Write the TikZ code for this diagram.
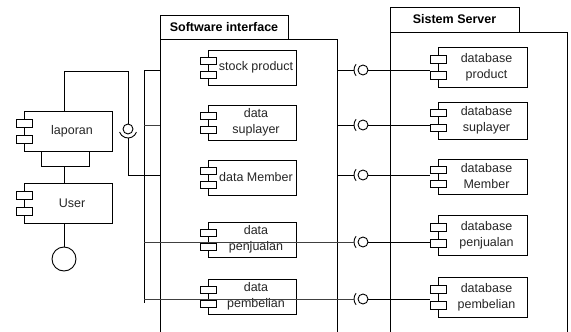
\documentclass[tikz,border=0pt]{standalone}
\usepackage{fontspec}
\setmainfont{Liberation Sans}
\tikzset{
  ln/.style={line width=0.9pt, draw=black},
  compbox/.style={ln, fill=white, inner sep=0pt, outer sep=0pt, rectangle},
  comptext/.style={font=\fontsize{12.5}{16}\selectfont, text=black!85, align=center, inner sep=0pt},
  tabbox/.style={ln, fill=white, rectangle, inner sep=0pt, outer sep=0pt, font=\fontsize{12.5}{15}\selectfont\bfseries},
  ball/.style={ln, circle, fill=white, minimum size=10pt, inner sep=0pt, outer sep=0pt},
  faint/.style={line width=0.9pt, draw=black!75}
}
\newcommand\compo[6]{%
  \node[compbox, minimum width={(#4-#2)*1pt}, minimum height={(#5-#3)*1pt}, anchor=north west,
        label={[comptext, xshift=4pt]center:{#6}}] (#1) at (#2,#3) {};
  \pgfmathsetmacro\hh{#5-#3}%
  \draw[compbox] ({#2-8},{#3+0.2*\hh}) rectangle ({#2+8},{#3+0.4*\hh});
  \draw[compbox] ({#2-8},{#3+0.6*\hh}) rectangle ({#2+8},{#3+0.8*\hh});
}
\begin{document}
\begin{tikzpicture}[x=1pt, y=-1pt]
\useasboundingbox (0,0) rectangle (571,332);
\clip (0,0) rectangle (571,332);
\fill[white] (0,0) rectangle (571,332);

% frames
\node[tabbox, minimum width=128pt, minimum height=24pt, anchor=north west] (tabSI) at (160,15) {Software interface};
\node[tabbox, minimum width=129pt, minimum height=25pt, anchor=north west] (tabSS) at (390,7) {Sistem Server};
\coordinate (siL) at (160,39);
\coordinate (siR) at (337,39);
\coordinate (ssL) at (390,32);
\coordinate (ssR) at (567,32);
\draw[ln] (160,345) -- (siL) -- (siR) -- (337,345);
\draw[ln] (390,345) -- (ssL) -- (ssR) -- (567,345);

% components
\compo{lap}{24}{111}{112}{151}{laporan}
\compo{usr}{24}{183}{112}{223}{User}
\compo{sp}{208}{50}{296}{85}{stock product}
\compo{ds}{208}{105}{296}{140}{data\\suplayer}
\compo{dm}{208}{160}{296}{195}{data Member}
\compo{dpj}{208}{222}{296}{257}{data\\penjualan}
\compo{dpb}{208}{279}{296}{314}{data\\pembelian}
\compo{dbp}{438}{47}{527}{87}{database\\product}
\compo{dbs}{438}{102}{527}{139}{database\\suplayer}
\compo{dbm}{438}{159}{527}{194}{database\\Member}
\compo{dbpj}{438}{215}{527}{255}{database\\penjualan}
\compo{dbpb}{438}{277}{527}{317}{database\\pembelian}

% user lollipop
\node[ln, circle, minimum size=24pt, inner sep=0pt] (uc) at (64,259) {};
\draw[ln] ([xshift=-4pt]usr.south) -- (uc.north);

% laporan - user link
\coordinate (lu) at (64,166);
\draw[ln] ([xshift=-27pt]lap.south) -- ++(0,15) -| ([xshift=21pt]lap.south);
\draw[ln] (lu) -- ([xshift=-4pt]usr.north);

% left ball and socket
\node[ball] (lb) at (128,129) {};
\draw[ln] ([shift={(20:9)}]lb.center) arc[start angle=20, end angle=160, radius=9];
\draw[ln] ([xshift=-4pt]lap.north) -- ++(0,-40) -| (lb.north);
\coordinate (j3) at (160,175);
\draw[ln] ([yshift=-9pt]lb.center) |- (j3);

% bracket
\coordinate (brT) at (144,70);
\coordinate (brB) at (144,303);
\coordinate (r2) at (144,125);
\coordinate (r4) at (144,242);
\coordinate (r5) at (144,299);
\draw[ln] (brT) -- (brB);
\draw[ln] (brT) -- (siL |- brT);
\draw[faint] (r2) -- (siL |- r2);

% right balls and sockets
\foreach \n/\yy in {1/70, 2/125, 3/175, 4/242, 5/299}{
  \node[ball] (b\n) at (363,\yy) {};
  \draw[ln] ([shift={(140:9)}]b\n.center) arc[start angle=140, end angle=220, radius=9];
  \coordinate (s\n) at ([xshift=-9pt]b\n.center);
}
\coordinate (dbx) at (430,0);
\draw[ln] (siR |- b1) -- (s1);
\draw[ln] (siR |- b2) -- (s2);
\draw[ln] (siR |- b3) -- (s3);
\draw[faint] (r4) -- (s4);
\draw[faint] (r5) -- (s5);
\draw[ln] (b1.east) -- (dbx |- b1);
\draw[ln] (b2.east) -- (dbx |- b2);
\draw[ln] (b3.east) -- (dbx |- b3);
\draw[ln] (b4.east) -- (dbx |- b4);
\draw[ln] (b5.east) -- (dbx |- b5);
\end{tikzpicture}
\end{document}
